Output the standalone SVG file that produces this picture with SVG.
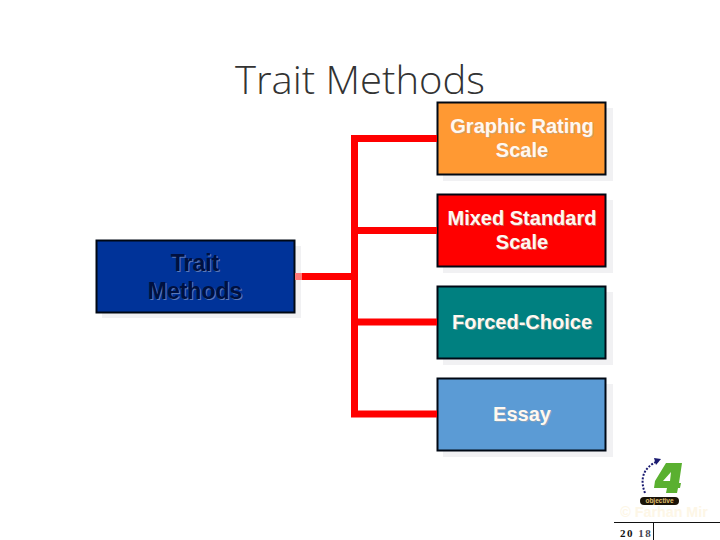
<svg xmlns="http://www.w3.org/2000/svg" width="720" height="540" viewBox="0 0 720 540">
<defs>
<style>
.box{stroke:#000814;stroke-width:2}
.sh{fill:#f1f1f3}
.lbl{font-family:"Liberation Sans",Arial,sans-serif;font-weight:700;font-size:20px;text-anchor:middle;fill:#fff8f0}
.tsh{font-family:"Liberation Sans",Arial,sans-serif;font-weight:700;font-size:20px;text-anchor:middle;fill:#a8a8a8;opacity:.55}
.conn{fill:none;stroke:#ff0000;stroke-width:7}
</style>
</defs>
<rect width="720" height="540" fill="#fff"/>
<text id="title" x="360" y="94" font-family="'Open Sans','Noto Sans',sans-serif" font-weight="300" font-size="38" fill="#333" text-anchor="middle" textLength="250" lengthAdjust="spacingAndGlyphs">Trait Methods</text>
<g id="trait">
<rect class="sh" x="102" y="246" width="199" height="72"/>
<rect x="96.500" y="240.500" width="198" height="72" fill="#003399" class="box"/>
<g font-family="'Liberation Sans',Arial,sans-serif" font-weight="700" font-size="23" text-anchor="middle">
<text x="196" y="272" fill="#5a78b8">Trait</text><text x="195" y="271" fill="#001040">Trait</text>
<text x="196" y="300" fill="#5a78b8">Methods</text><text x="195" y="299" fill="#001040">Methods</text>
</g>
</g>
<g id="graphic">
<rect class="sh" x="443" y="108" width="170" height="73"/>
<rect x="437.500" y="102.500" width="168" height="72" fill="#ff9933" class="box"/>
<text class="tsh" x="523" y="134">Graphic Rating</text><text class="lbl" x="522" y="133">Graphic Rating</text>
<text class="tsh" x="523" y="158">Scale</text><text class="lbl" x="522" y="157">Scale</text>
</g>
<g id="mixed">
<rect class="sh" x="443" y="200" width="170" height="73"/>
<rect x="437.500" y="194.500" width="168" height="72" fill="#ff0000" class="box"/>
<text class="tsh" x="523" y="226">Mixed Standard</text><text class="lbl" x="522" y="225">Mixed Standard</text>
<text class="tsh" x="523" y="250">Scale</text><text class="lbl" x="522" y="249">Scale</text>
</g>
<g id="forced">
<rect class="sh" x="443" y="292" width="170" height="73"/>
<rect x="437.500" y="286.500" width="168" height="72" fill="#008080" class="box"/>
<text class="tsh" x="523" y="330">Forced-Choice</text><text class="lbl" x="522" y="329">Forced-Choice</text>
</g>
<g id="essay">
<rect class="sh" x="443" y="384" width="170" height="73"/>
<rect x="437.500" y="378.500" width="168" height="72" fill="#5b9bd5" class="box"/>
<text class="tsh" x="523" y="422">Essay</text><text class="lbl" x="522" y="421">Essay</text>
</g>
<g id="connectors">
<path d="M295 276.500H302" stroke="#ff7878" stroke-width="7" fill="none"/>
<path class="conn" d="M302 276.500H354.500M437 138.500H354.500V414H437M354.500 230.500H437M354.500 322H437"/>
</g>
<g id="logo">
<path d="M645 493C640 480 642 468 658 461" fill="none" stroke="#1a1a70" stroke-width="2" stroke-dasharray="2 1.500"/>
<path d="M654 458L661 459L656 465Z" fill="#1a1a70"/>
<path fill-rule="evenodd" d="M666 463H682L679 483H681L680 488H678L677 493H666L667 488H654L655 481ZM671 472L663 481H670Z" fill="#5ab030"/>
<rect x="640" y="497" width="39" height="8" rx="4" fill="#1a1408"/>
<text x="659.500" y="503" font-family="'Liberation Sans',Arial,sans-serif" font-weight="700" font-size="6.500" text-anchor="middle" fill="#e0c070">objective</text>
<text x="664" y="517" font-family="'Liberation Sans',Arial,sans-serif" font-weight="700" font-size="14.300" text-anchor="middle" fill="#fdf6e6">© Farhan Mir</text>
</g>
<g id="footer">
<path d="M614 522.500H720M653.500 522V540" stroke="#111" stroke-width="1" fill="none"/>
<text x="620" y="537" font-family="'Liberation Serif',serif" font-weight="700" font-size="11" fill="#111" letter-spacing="1.500">20<tspan fill="#445"> 18</tspan></text>
</g>
</svg>
